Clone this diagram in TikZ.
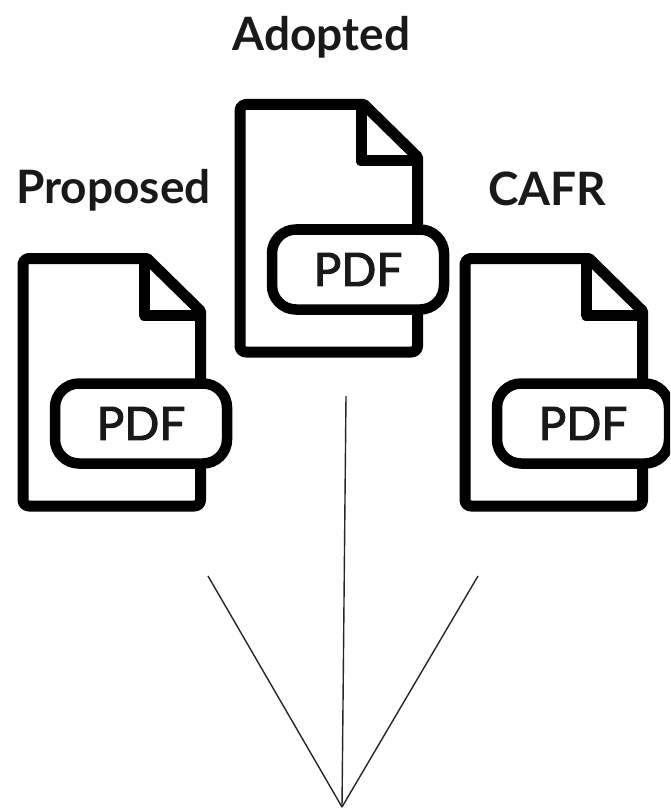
\documentclass[tikz,border=0pt]{standalone}
\usepackage{fontspec}
\setmainfont{Lato}
\newfontfamily\pdffont[FakeBold=2.2]{Lato}
\tikzset{
  page/.style={draw,line width=11pt,line join=round,fill=white},
  fold/.style={draw,line width=11pt,line join=round},
  pill/.style={draw,line width=10.5pt,fill=white,rounded corners=24pt,minimum width=172pt,minimum height=80pt,inner sep=0pt,font=\pdffont\fontsize{46}{46}\selectfont,text=black!90},
  title/.style={inner sep=0pt,font=\bfseries\fontsize{46}{46}\selectfont,text=black!90},
  link/.style={draw,line width=1.4pt,black!85},
  icon/.pic={
    \path[page] (23,264) arc[start angle=180,end angle=90,radius=5.5pt] -- (147,258.5) -- (200.5,311) -- (200.5,500) arc[start angle=0,end angle=-90,radius=6pt] -- (29,506) arc[start angle=270,end angle=180,radius=6pt] -- cycle;
    \path[fold] (144,258.5) -- (144,315) -- (200.5,315);
  }
}
\begin{document}
\begin{tikzpicture}[x=1pt,y=-1pt]
\useasboundingbox (0,0) rectangle (670,810);
\clip (0,0) rectangle (670,810);
\pic at (0,0) {icon};
\pic at (217,-154) {icon};
\pic at (442,0) {icon};
\node[pill] (pdfa) at (141,423.5) {PDF};
\node[pill] (pdfb) at (358,269.5) {PDF};
\node[pill] (pdfc) at (583,423.5) {PDF};
\node[title] (proposed) at (113.5,190) {Proposed};
\node[title] (adopted) at (321.5,37) {Adopted};
\node[title] (cafr) at (547,188.5) {CAFR};
\coordinate (apex) at (342,807);
\coordinate (la) at (208,576);
\coordinate (lb) at (346,396);
\coordinate (lc) at (478,576);
\draw[link] (la) -- (apex);
\draw[link] (lb) -- (apex);
\draw[link] (lc) -- (apex);
\end{tikzpicture}
\end{document}
